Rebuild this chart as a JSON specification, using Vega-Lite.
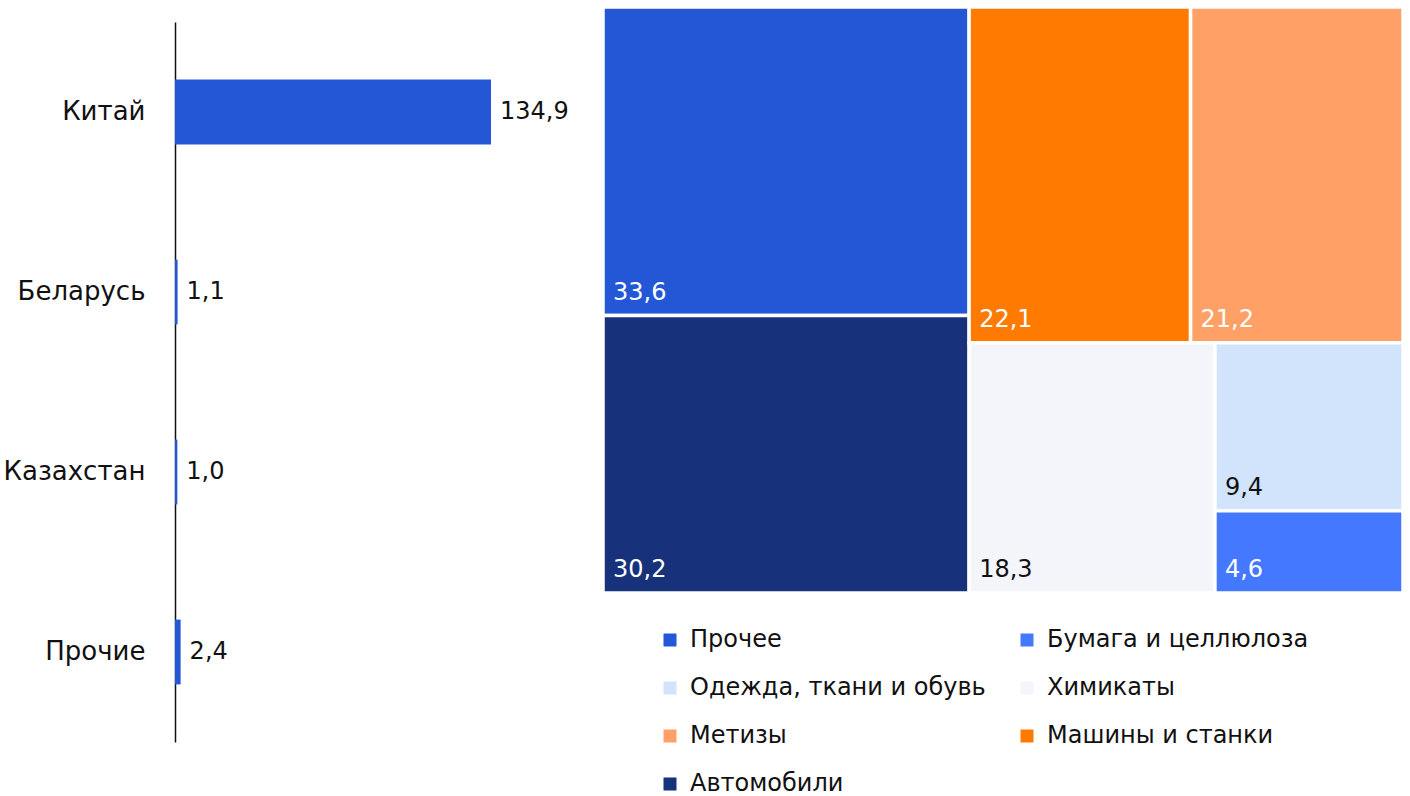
{
  "$schema": "https://vega.github.io/schema/vega-lite/v6.json",
  "background": "white",
  "padding": {"left": 3, "top": 5, "right": 0, "bottom": 0},
  "spacing": 6,
  "hconcat": [
    {
      "width": 420,
      "height": 735,
      "data": {"values": [
        {"country": "Китай", "value": 134.9},
        {"country": "Беларусь", "value": 1.1},
        {"country": "Казахстан", "value": 1.0},
        {"country": "Прочие", "value": 2.4}
      ]},
      "encoding": {
        "y": {
          "field": "country", "type": "nominal", "sort": null,
          "scale": {"range": [15, 735], "paddingInner": 0.64, "paddingOuter": 0.32},
          "axis": {"title": null, "domain": true, "domainColor": "#111111", "domainWidth": 1.5, "ticks": false, "grid": false, "labelPadding": 30, "labelFontSize": 26, "labelColor": "#111111", "labelLimit": 400}
        },
        "x": {
          "field": "value", "type": "quantitative",
          "scale": {"domain": [0, 179.3], "nice": false},
          "axis": null
        }
      },
      "layer": [
        {"mark": {"type": "bar", "color": "#2457D6"}},
        {
          "mark": {"type": "text", "align": "left", "baseline": "middle", "dx": 9, "fontSize": 24, "color": "#111111"},
          "encoding": {"text": {"field": "value", "type": "quantitative", "format": ".1f"}}
        }
      ]
    },
    {
      "width": 800,
      "height": 586,
      "data": {"values": [
        {"cat": "Прочее", "value": 33.6, "g1": "A", "g2": "A", "g3": "A"},
        {"cat": "Автомобили", "value": 30.2, "g1": "A", "g2": "A", "g3": "A"},
        {"cat": "Машины и станки", "value": 22.1, "g1": "B", "g2": "B1", "g3": "B1a"},
        {"cat": "Метизы", "value": 21.2, "g1": "B", "g2": "B1", "g3": "B1b"},
        {"cat": "Химикаты", "value": 18.3, "g1": "B", "g2": "B2", "g3": "B2a"},
        {"cat": "Одежда, ткани и обувь", "value": 9.4, "g1": "B", "g2": "B2", "g3": "B2b"},
        {"cat": "Бумага и целлюлоза", "value": 4.6, "g1": "B", "g2": "B2", "g3": "B2b"}
      ]},
      "transform": [
        {"window": [{"op": "row_number", "as": "idx"}]},
        {"joinaggregate": [{"op": "sum", "field": "value", "as": "T"}]},
        {"joinaggregate": [{"op": "sum", "field": "value", "as": "s1"}], "groupby": ["g1"]},
        {"joinaggregate": [{"op": "sum", "field": "value", "as": "s2"}], "groupby": ["g2"]},
        {"joinaggregate": [{"op": "sum", "field": "value", "as": "s3"}], "groupby": ["g3"]},
        {"stack": "value", "groupby": [], "sort": [{"field": "idx"}], "as": ["a1", "b1"]},
        {"joinaggregate": [{"op": "min", "field": "a1", "as": "o1"}], "groupby": ["g1"]},
        {"stack": "value", "groupby": ["g1"], "sort": [{"field": "idx"}], "as": ["a2", "b2"]},
        {"joinaggregate": [{"op": "min", "field": "a2", "as": "o2"}], "groupby": ["g2"]},
        {"stack": "value", "groupby": ["g2"], "sort": [{"field": "idx"}], "as": ["a3", "b3"]},
        {"joinaggregate": [{"op": "min", "field": "a3", "as": "o3"}], "groupby": ["g3"]},
        {"stack": "value", "groupby": ["g3"], "sort": [{"field": "idx"}], "as": ["a4", "b4"]},
        {"calculate": "datum.o1 / datum.T", "as": "X0"},
        {"calculate": "(datum.o1 + datum.s1) / datum.T", "as": "X1"},
        {"calculate": "datum.o2 / datum.s1", "as": "Y0"},
        {"calculate": "(datum.o2 + datum.s2) / datum.s1", "as": "Y1"},
        {"calculate": "datum.X0 + (datum.X1 - datum.X0) * datum.o3 / datum.s2", "as": "x0"},
        {"calculate": "datum.X0 + (datum.X1 - datum.X0) * (datum.o3 + datum.s3) / datum.s2", "as": "x1"},
        {"calculate": "datum.Y0 + (datum.Y1 - datum.Y0) * datum.a4 / datum.s3", "as": "y0"},
        {"calculate": "datum.Y0 + (datum.Y1 - datum.Y0) * datum.b4 / datum.s3", "as": "y1"}
      ],
      "encoding": {
        "x": {"field": "x0", "type": "quantitative", "scale": {"domain": [0, 1], "nice": false, "zero": false}, "axis": null},
        "y": {"field": "y0", "type": "quantitative", "scale": {"domain": [0, 1], "nice": false, "reverse": true}, "axis": null}
      },
      "layer": [
        {
          "mark": {"type": "rect", "stroke": "white", "strokeWidth": 3.5},
          "encoding": {
            "x2": {"field": "x1"},
            "y2": {"field": "y1"},
            "color": {
              "field": "cat", "type": "nominal",
              "scale": {
                "domain": ["Прочее", "Бумага и целлюлоза", "Одежда, ткани и обувь", "Химикаты", "Метизы", "Машины и станки", "Автомобили"],
                "range": ["#2457D6", "#4479FF", "#D1E4FB", "#F3F5FA", "#FFA066", "#FF7A00", "#17317B"]
              },
              "legend": {
                "title": null, "orient": "none", "legendX": 483, "legendY": 621, "columns": 2, "direction": "horizontal",
                "symbolType": "square", "symbolSize": 169, "symbolStrokeWidth": 0,
                "labelFontSize": 24, "labelColor": "#111111", "labelOffset": 8,
                "rowPadding": 24, "columnPadding": 29, "labelLimit": 400
              }
            }
          }
        },
        {
          "mark": {"type": "text", "align": "left", "baseline": "alphabetic", "dx": 10, "dy": -16, "fontSize": 24},
          "encoding": {
            "y": {"field": "y1", "type": "quantitative"},
            "text": {"field": "value", "type": "quantitative", "format": ".1f"},
            "color": {
              "condition": {"test": "indexof(['Химикаты', 'Одежда, ткани и обувь'], datum.cat) >= 0", "value": "#111111"},
              "value": "white"
            }
          }
        }
      ]
    }
  ],
  "config": {
    "font": "DejaVu Sans",
    "view": {"stroke": null},
    "locale": {"number": {"decimal": ",", "thousands": " ", "grouping": [3], "currency": ["", ""]}}
  }
}
